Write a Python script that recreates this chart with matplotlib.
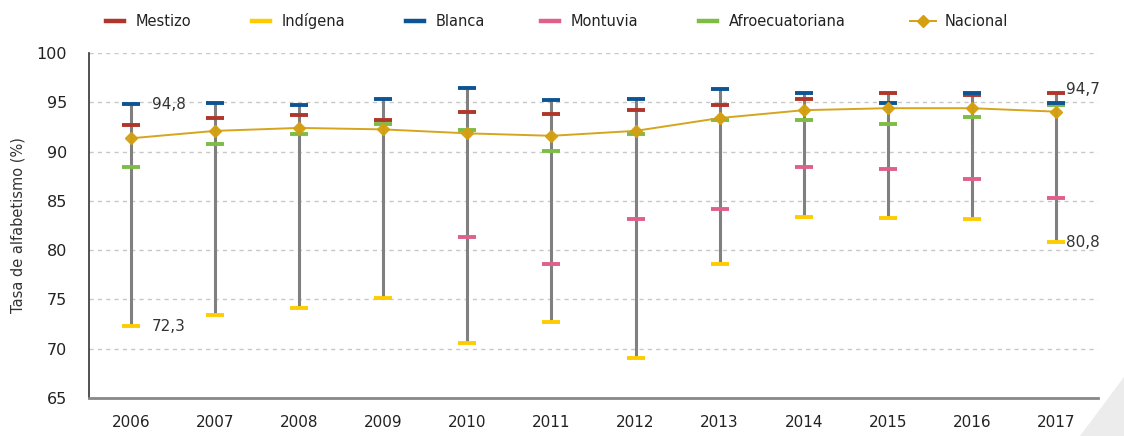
import matplotlib
matplotlib.use("Agg")
import matplotlib.pyplot as plt
import numpy as np
from matplotlib.lines import Line2D
from matplotlib.patches import Polygon

years = [2006, 2007, 2008, 2009, 2010, 2011, 2012, 2013, 2014, 2015, 2016, 2017]
mestizo = [92.7, 93.4, 93.7, 93.2, 94.0, 93.85, 94.2, 94.7, 95.3, 95.9, 95.7, 95.9]
indigena = [72.3, 73.4, 74.1, 75.1, 70.55, 72.7, 69.1, 78.6, 83.4, 83.3, 83.2, 80.8]
blanca = [94.8, 94.9, 94.7, 95.3, 96.5, 95.2, 95.3, 96.3, 95.9, 94.9, 95.9, 94.9]
montuvia = [np.nan, np.nan, np.nan, np.nan, 81.3, 78.55, 83.2, 84.2, 88.4, 88.2, 87.2, 85.25]
afro = [88.4, 90.8, 91.75, 92.8, 92.2, 90.1, 91.75, 93.2, 93.2, 92.8, 93.5, 94.7]
nacional = [91.35, 92.1, 92.4, 92.25, 91.85, 91.6, 92.1, 93.4, 94.2, 94.4, 94.4, 94.05]

series_names = ["Mestizo", "Indígena", "Blanca", "Montuvia", "Afroecuatoriana"]
annotations = [(2006, 94.8, "94,8"), (2006, 72.3, "72,3"), (2017, 95.9, "94,7"), (2017, 80.8, "80,8")]
annot_offsets = [(21, 0), (21, 0), (10, 4), (10, 0)]  # pixel offsets (style)

colors = {
    "Mestizo": "#B0352B",
    "Indígena": "#FFCC00",
    "Blanca": "#0D5494",
    "Montuvia": "#E0608C",
    "Afroecuatoriana": "#7DBD45",
}
nac_color = "#D4A012"

W, H = 1124, 436
fig = plt.figure(figsize=(W / 100, H / 100), dpi=100)
ax = fig.add_axes([89 / W, 1 - 398 / H, (1098 - 89) / W, (398 - 53) / H])

data = [mestizo, indigena, blanca, montuvia, afro]
arr = np.array(data, dtype=float)
lo = np.nanmin(arr, axis=0)
hi = np.nanmax(arr, axis=0)
ax.vlines(years, lo, hi, color="#808080", lw=2.2, zorder=2)

draw_order = ["Indígena", "Montuvia", "Afroecuatoriana", "Mestizo", "Blanca"]
for name in draw_order:
    vals = data[series_names.index(name)]
    ax.plot(years, vals, ls="none", marker="_", ms=13, mew=2.8,
            color=colors[name], zorder=3)

ax.plot(years, nacional, color=nac_color, lw=1.4, marker="D", ms=6.5,
        markeredgecolor=nac_color, zorder=4, alpha=0.95)

for (x, y, t), (dx, dy) in zip(annotations, annot_offsets):
    ax.annotate(t, (x, y), xytext=(dx * 0.72, dy * 0.72), textcoords="offset points",
                fontsize=11, color="#333333", va="center", ha="left")

ax.set_xlim(2005.5, 2017.5)
ax.set_ylim(65, 100)
ax.set_yticks(range(65, 101, 5))
ax.set_xticks(years)
ax.tick_params(axis="both", length=0, labelsize=11, colors="#222222")
ax.tick_params(axis="y", labelsize=11.5, pad=16)
ax.tick_params(axis="x", pad=12)
for y in range(70, 101, 5):
    ax.axhline(y, color="#c8c8c8", lw=1, ls=(0, (3, 3)), zorder=1)
for s in ["top", "right"]:
    ax.spines[s].set_visible(False)
ax.spines["left"].set_color("#333333")
ax.spines["left"].set_linewidth(1.2)
ax.spines["bottom"].set_color("#888888")
ax.spines["bottom"].set_linewidth(2)
ax.set_ylabel("Tasa de alfabetismo (%)", fontsize=10.5, color="#333333", labelpad=8)

# legend drawn manually at reference positions
leg_x = [106, 252, 406, 541, 699, 910]
leg_y = 1 - 21 / H
labels = series_names + ["Nacional"]
for i, lab in enumerate(labels):
    x0 = leg_x[i] / W
    if lab == "Nacional":
        x1 = (leg_x[i] + 26) / W
        fig.add_artist(Line2D([x0, x1], [leg_y, leg_y], transform=fig.transFigure,
                              color=nac_color, lw=1.4))
        fig.add_artist(Line2D([(x0 + x1) / 2], [leg_y], transform=fig.transFigure,
                              color=nac_color, marker="D", ms=6, ls="none"))
        tx = x1 + 9 / W
    else:
        x1 = (leg_x[i] + 18) / W
        fig.add_artist(Line2D([x0, x1], [leg_y, leg_y], transform=fig.transFigure,
                              color=colors[lab], lw=3.2))
        tx = x1 + 12 / W
    fig.text(tx, leg_y, lab, fontsize=10.5, color="#222222", va="center", ha="left")

tri = Polygon([[1080 / W, 0], [1, 0], [1, 1 - 377 / H]], closed=True,
              transform=fig.transFigure, facecolor="#ececec", edgecolor="none", zorder=0)
fig.patches.append(tri)

fig.savefig("out.png", dpi=100)
